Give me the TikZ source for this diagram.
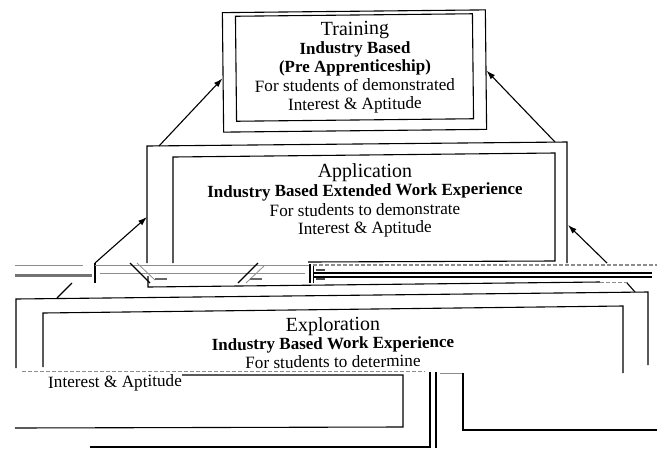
\documentclass[tikz,border=0pt]{standalone}
\usepackage{fontspec}
\setmainfont{Liberation Serif}
\usetikzlibrary{arrows.meta,calc}
\begin{document}
\begin{tikzpicture}[x=1pt,y=-1pt,
  box/.style={draw, line width=1.1pt, inner sep=0pt, rotate=0.6},
  ln/.style={line width=1.1pt},
  arr/.style={line width=1.1pt, -{Latex[length=9pt,width=6pt]}},
  gr/.style={line width=0.8pt, black!45},
  grdash/.style={line width=0.8pt, black!45, dash pattern=on 4pt off 2pt},
  body/.style={font=\fontsize{17.2}{18}\selectfont, anchor=base, inner sep=0pt, rotate=0.6},
  ttl/.style={font=\fontsize{20}{20}\selectfont, anchor=base, inner sep=0pt, rotate=0.6},
  bld/.style={font=\fontsize{17}{18}\selectfont\bfseries, anchor=base, inner sep=0pt, rotate=0.6}]
\useasboundingbox (0,0) rectangle (657,448);

% ---------------- Training ----------------
\node[box, minimum width=263pt, minimum height=119.5pt] (trainO) at (354.5,71) {};
\node[box, minimum width=237pt, minimum height=105pt] (trainI) at (354.5,67.5) {};
\node[ttl] (tT) at (355,35) {Training};
\node[bld] (tB1) at (355,53.5) {Industry Based};
\node[bld] (tB2) at (355,72) {(Pre Apprenticeship)};
\node[body] (tL1) at (355,91) {For students of demonstrated};
\node[body] (tL2) at (355,109.5) {Interest \& Aptitude};

% ---------------- Application ----------------
\coordinate (aOBL) at (147,263);
\coordinate (aOTL) at (147,146);
\coordinate (aOTR) at (567,142);
\coordinate (aOBR) at (567,263);
\draw[ln] (aOBL) -- (aOTL) -- (aOTR) -- (aOBR);
\coordinate (aIBL) at (173,263);
\coordinate (aITL) at (173,157);
\coordinate (aITR) at (555,153);
\coordinate (aIBR) at (555,261);
\coordinate (aIBM) at (308,262);
\draw[ln] (aIBL) -- (aITL) -- (aITR) -- (aIBR) -- (aIBM);
\node[ttl] (aT) at (365,177.5) {Application};
\node[bld] (aB1) at (365,196) {Industry Based Extended Work Experience};
\node[body] (aL1) at (365,215.5) {For students to demonstrate};
\node[body] (aL2) at (365,233.5) {Interest \& Aptitude};

% arrows Application -> Training
\coordinate (aS1) at (159,146);
\coordinate (aS2) at (555,142);
\draw[arr] (aS1) -- ($(trainO.west)+(0,6)$);
\draw[arr] (aS2) -- ($(trainO.east)+(0,1)$);

% arrows from below -> Application
\coordinate (eS1) at (95,263);
\coordinate (eS2) at (607,263);
\coordinate (aTipL) at (147,217);
\coordinate (aTipR) at (568,225);
\draw[arr] (eS1) -- (aTipL);
\draw[arr] (eS2) -- (aTipR);

% ---------------- scan glitch band ----------------
\coordinate (g1) at (15,265); \coordinate (g2) at (83,265);
\draw[gr] (g1) -- (g2);
\coordinate (g3) at (15,275.5); \coordinate (g4) at (92,275.5);
\draw[line width=3pt, black!55] (g3) -- (g4);
\coordinate (g5) at (95,283);
\draw[ln] (eS1) -- (g5);
\draw[gr] (95,265) -- (310,265);
\draw[gr] (100,273) -- (305,273);
\draw[ln] (130,263) -- (150,283);
\draw[gr] (137,263) -- (155,280);
\draw[ln] (258,263) -- (238,283);
\draw[gr] (264,266) -- (246,283);
\draw[line width=1.5pt, black!60] (155,279) -- (167,279);
\draw[line width=1.5pt, black!60] (250,279) -- (262,279);
\draw[line width=1.5pt, black!70] (316,270) -- (325,270);
\draw[line width=1.5pt, black!70] (316,279) -- (325,279);
% shifted bottom of Application
\coordinate (aSB1) at (148,276);
\coordinate (aSB2) at (148,287);
\coordinate (aSB3) at (600,282);
\draw[ln] (aSB1) -- (aSB2) -- (aSB3);
\draw[grdash] (aSB3) -- (628,282);
% double verticals and double line to the right
\draw[ln] (310,264) -- (310,283);
\draw[line width=0.8pt] (313,264) -- (313,283);
\draw[line width=1.2pt] (313,273) -- (652,273);
\draw[line width=1.2pt] (313,277) -- (652,277);
\draw[grdash, line width=1.2pt] (313,265) -- (657,265);

% ---------------- Exploration ----------------
\coordinate (eOBL) at (16,368);
\coordinate (eOTL) at (16,299);
\coordinate (eOTR) at (648,292);
\coordinate (eOBR) at (648,365);
\draw[ln] (eOBL) -- (eOTL) -- (eOTR) -- (eOBR);
\coordinate (eIBL) at (43,367);
\coordinate (eITL) at (43,313);
\coordinate (eITR) at (623,306);
\coordinate (eIBR) at (623,373);
\draw[ln] (eIBL) -- (eITL) -- (eITR) -- (eIBR);
\draw[ln] (57,298) -- (72,283);
\draw[ln] (627,283) -- (635,292);

\draw[grdash, line width=0.7pt] (22,371) -- (425,371);
\node[ttl] (eT) at (333,331) {Exploration};
\node[bld] (eB1) at (333,349) {Industry Based Work Experience};
\node[body] (eL1) at (333,367.5) {For students to determine};
\node[body, anchor=base west] (eL2) at (48,388) {Interest \& Aptitude};

% shifted lower fragments
\coordinate (s1) at (182,375);
\coordinate (s2) at (403,375);
\coordinate (s3) at (403,427);
\coordinate (s4) at (15,428);
\draw[ln] (s1) -- (s2) -- (s3) -- (s4);
\coordinate (s5) at (430,372);
\coordinate (s6) at (430,447);
\coordinate (s7) at (90,447);
\draw[ln] (s5) -- (s6) -- (s7);
\draw[ln] (436,372) -- (436,448);
\draw[gr] (440,373) -- (462,373);
\coordinate (s8) at (463,373);
\coordinate (s9) at (463,430);
\coordinate (s10) at (657,430);
\draw[ln] (s8) -- (s9) -- (s10);
\end{tikzpicture}
\end{document}
